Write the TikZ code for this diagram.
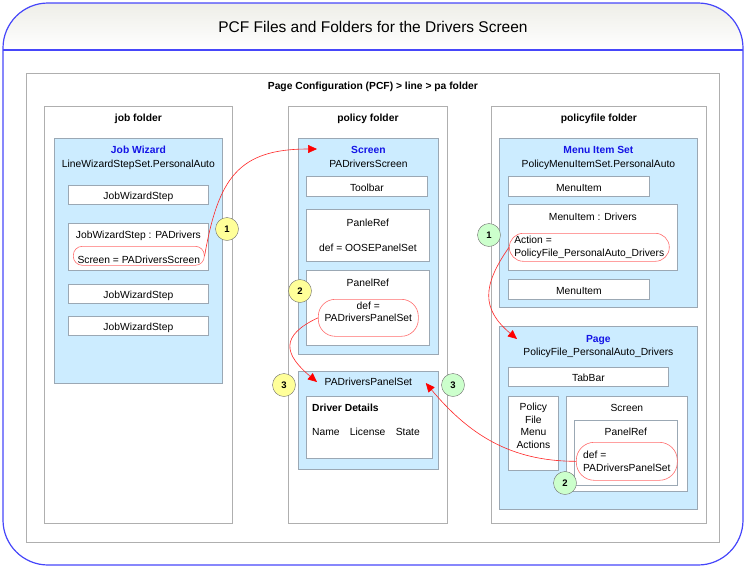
\documentclass[tikz,border=0pt]{standalone}
\usepackage{fontspec}
\setmainfont{Liberation Sans}
\usetikzlibrary{
    arrows.meta,
    positioning % for below=... of ...
}
\definecolor{framecol}{RGB}{70,70,250}
\definecolor{bandgray}{RGB}{238,238,232}
\definecolor{folderline}{RGB}{175,175,175}
\definecolor{setline}{RGB}{155,168,180}
\definecolor{setfill}{RGB}{204,236,255}
\definecolor{titleblue}{RGB}{20,20,230}
\definecolor{refline}{RGB}{255,110,110}
\definecolor{numline}{RGB}{110,110,110}
\definecolor{numyellow}{RGB}{255,255,153}
\definecolor{numgreen}{RGB}{204,255,204}

\begin{document}
\begin{tikzpicture}[x=1pt,y=-1pt,font=\fontsize{10.3}{12.5}\selectfont,
    folder/.style={draw=folderline, fill=white, anchor=north west, inner sep=0pt, line width=0.8pt},
    set/.style={draw=setline, fill=setfill, anchor=north west, inner sep=0pt, line width=0.8pt},
    item/.style={draw=setline, fill=white, anchor=north west, inner sep=0pt, line width=0.8pt, align=center},
    entry/.style={item, text height=10pt, text depth=0pt},
    oval/.style={draw=refline, anchor=north west, inner sep=0pt, line width=0.6pt, rounded corners=#1},
    oval/.default=9pt,
    txt/.style={inner sep=0pt, text height=7.5pt, text depth=2pt},
    head/.style={txt, font=\fontsize{10.3}{12.5}\selectfont\bfseries},
    kind/.style={head, text=titleblue},
    num/.style={circle, draw=numline, fill=#1, minimum size=23pt, inner sep=0pt, font=\fontsize{9.5}{10}\selectfont\bfseries},
    link/.style={draw=red!85, line width=0.6pt, -{Triangle[length=9pt, width=8pt, color=red]}}]
    \useasboundingbox (0,0) rectangle (746,568);

    % frame and title band
    \begin{scope}
        \clip[rounded corners=45pt] (3,3) rectangle (743,565);
        \shade[top color=bandgray, bottom color=white] (3,3) rectangle (743,50);
    \end{scope}
    \draw[framecol, line width=1.2pt, rounded corners=45pt] (3,3) rectangle (743,565);
    \draw[framecol, line width=1.2pt] (3,50) -- (743,50);
    \node[font=\fontsize{15.5}{18}\selectfont] (title) at (373,27) {PCF Files and Folders for the Drivers Screen};

    % folders
    \node[folder, minimum width=693pt, minimum height=469pt] (pcf) at (26,73) {};
    \node[head, below=9pt of pcf.north] (pcfT) {Page Configuration (PCF) > line > pa folder};
    \node[folder, minimum width=188pt, minimum height=417pt] (job) at (44,106) {};
    \node[folder, minimum width=159pt, minimum height=417pt] (pol) at (288,106) {};
    \node[folder, minimum width=215pt, minimum height=417pt] (pfile) at (491,106) {};
    \node[head, below=8pt of job.north] (jobT) {job folder};
    \node[head, below=8pt of pol.north] (polT) {policy folder};
    \node[head, below=8pt of pfile.north] (pfileT) {policyfile folder};

    % job wizard
    \node[set, minimum width=168pt, minimum height=245pt] (wiz) at (54,138) {};
    \node[kind, below=8pt of wiz.north] (wizT) {Job Wizard};
    \node[txt, below=3.5pt of wizT] (wizN) {LineWizardStepSet.PersonalAuto};
    \node[entry, minimum width=140pt, minimum height=19pt] (wstepA) at (68,185) {JobWizardStep};
    \node[item, minimum width=140pt, minimum height=47pt] (wstepPA) at (68,223) {};
    \node[txt, below=8pt of wstepPA.north] (wstepPAT) {JobWizardStep : PADrivers};
    \node[oval, minimum width=131pt, minimum height=19pt, text height=15pt, text depth=0pt] (refScr) at (73,246) {Screen = PADriversScreen};
    \node[entry, minimum width=140pt, minimum height=19pt] (wstepB) at (68,284) {JobWizardStep};
    \node[entry, minimum width=140pt, minimum height=19pt] (wstepC) at (68,316) {JobWizardStep};

    % screen
    \node[set, minimum width=140pt, minimum height=216pt] (scr) at (298,138) {};
    \node[kind, below=8pt of scr.north] (scrT) {Screen};
    \node[txt, below=3.5pt of scrT] (scrN) {PADriversScreen};
    \node[entry, minimum width=121pt, minimum height=20pt] (toolbar) at (306,176) {Toolbar};
    \node[item, minimum width=123pt, minimum height=52pt] (panle) at (306,209) {PanleRef\\[13pt]def = OOSEPanelSet};
    \node[item, minimum width=123pt, minimum height=75pt] (panel) at (306,270) {};
    \node[txt, below=9pt of panel.north] (panelT) {PanelRef};
    \node[oval=17pt, minimum width=100pt, minimum height=37pt, align=center, text depth=12pt] (refPS) at (318,299) {def =\\PADriversPanelSet};

    % panel set
    \node[set, minimum width=140pt, minimum height=98pt] (pset) at (298,371) {};
    \node[txt, below=7pt of pset.north] (psT) {PADriversPanelSet};
    \node[item, minimum width=126pt, minimum height=62pt] (details) at (306,396) {};
    \node[head, below right=8pt and 6pt of details.north west] (detT) {Driver Details};
    \node[txt, below right=14pt and 0pt of detT.south west] (detF) {Name\quad License\quad State};

    % menu item set
    \node[set, minimum width=198pt, minimum height=169pt] (mset) at (499,138) {};
    \node[kind, below=8pt of mset.north] (msetT) {Menu Item Set};
    \node[txt, below=3.5pt of msetT] (msetN) {PolicyMenuItemSet.PersonalAuto};
    \node[entry, minimum width=141pt, minimum height=20pt] (mitemA) at (508,176) {MenuItem};
    \node[item, minimum width=169pt, minimum height=66pt] (mitemDrv) at (508,204) {};
    \node[txt, below=9pt of mitemDrv.north] (drvT) {MenuItem : Drivers};
    \node[oval=14pt, minimum width=160pt, minimum height=28pt, align=left] (refAct) at (509,233) {Action =\\PolicyFile\_PersonalAuto\_Drivers};
    \node[entry, minimum width=141pt, minimum height=20pt] (mitemB) at (508,279) {MenuItem};

    % page
    \node[set, minimum width=198pt, minimum height=183pt] (page) at (499,326) {};
    \node[kind, below=9pt of page.north] (pageT) {Page};
    \node[txt, below=2.5pt of pageT] (pageN) {PolicyFile\_PersonalAuto\_Drivers};
    \node[entry, minimum width=160pt, minimum height=19pt] (tabbar) at (508,367) {TabBar};
    \node[item, minimum width=50pt, minimum height=74pt] (pfma) at (508,396) {};
    \node[inner sep=0pt, align=center, below=7pt of pfma.north] (pfmaT) {Policy\\File\\Menu\\Actions};
    \node[item, minimum width=121pt, minimum height=95pt] (pgscr) at (566,396) {};
    \node[txt, below=8pt of pgscr.north] (pgscrT) {Screen};
    \node[item, minimum width=103pt, minimum height=65pt] (pgpref) at (574,420) {};
    \node[txt, below=8pt of pgpref.north] (pgprefT) {PanelRef};
    \node[oval=18pt, minimum width=101pt, minimum height=38pt, align=left, text depth=0pt] (refPg) at (576,442) {def =\\PADriversPanelSet};

    % arrow ends
    \coordinate[below right=11pt and 19pt of scr.north west] (scrIn);
    \coordinate[below right=11pt and 19pt of pset.north west] (psIn);
    \coordinate[below left=12pt and 13pt of pset.north east] (psBack);
    \coordinate[below right=13pt and 18pt of page.north west] (pageIn);

    \draw[link] (refScr.east) to[out=80, in=180, looseness=1.3] (scrIn);
    \draw[link] (refPS.west) to[out=205, in=140, looseness=1.7] (psIn);
    \draw[link] (refPg.west) to[out=180, in=-50] (psBack);
    \draw[link] (refAct.west) to[out=235, in=140, looseness=1.3] (pageIn);

    % numbers
    \node[num=numyellow] (n1) at (227,229) {1};
    \node[num=numyellow] (n2) at (300,291) {2};
    \node[num=numyellow] (n3) at (284,385) {3};
    \node[num=numgreen] (m1) at (489,235) {1};
    \node[num=numgreen] (m2) at (565,483) {2};
    \node[num=numgreen] (m3) at (453,385) {3};
\end{tikzpicture}
\end{document}
